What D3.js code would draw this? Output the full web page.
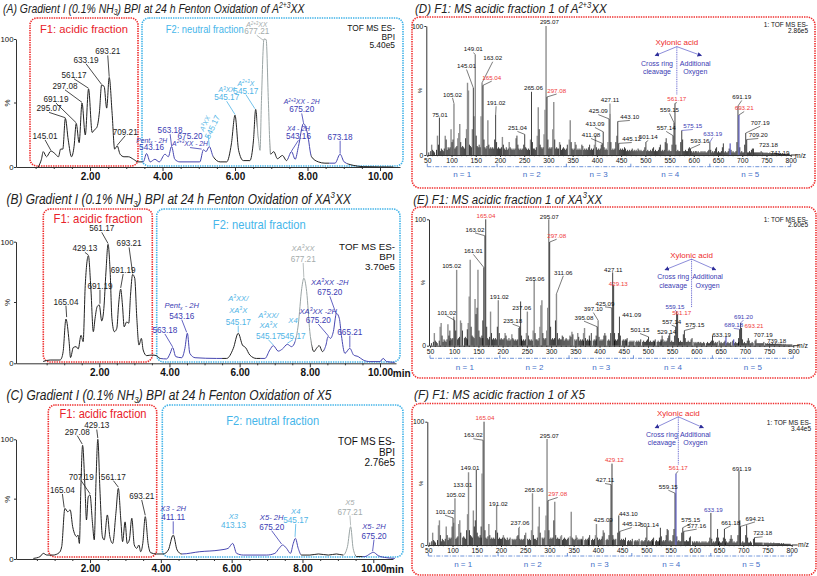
<!DOCTYPE html>
<html><head><meta charset="utf-8">
<script src="https://cdn.jsdelivr.net/npm/d3@7"></script>
<style>body{margin:0;background:#fff}svg{display:block}</style>
</head><body><svg id="c" width="817" height="576"></svg>
<script>
// ---------------- DATA ----------------
const timeTicks=[2,4,6,8,10];
const mzTicks=[50,100,150,200,250,300,350,400,450,500,550,600,650,700,750,800];
const nBounds=[50,194,337,470,633,800];
const nLabels=["n = 1","n = 2","n = 3","n = 4","n = 5"];

// chromatogram traces [time (min), intensity (%)]
const traceA=[[0.57,0],[0.66,6],[0.71,12],[0.80,8],[0.92,12.5],[1.03,10.5],[1.13,8],[1.19,14],[1.25,14],[1.32,38],[1.40,21],[1.49,8],[1.56,16],[1.62,34],[1.70,19],[1.78,50],[1.87,25],[1.96,61],[2.06,27],[2.12,29],[2.19,31],[2.26,43],[2.32,64],[2.39,63],[2.46,46],[2.53,70],[2.61,42],[2.68,14],[2.75,16.5],[2.83,10],[2.94,8],[3.06,8],[3.20,6],[3.33,4],[3.47,4],[3.56,10.5],[3.66,4],[3.79,6],[3.91,4],[4.07,10],[4.16,8],[4.25,16],[4.34,6],[4.48,4],[5.03,4],[5.13,13.5],[5.20,12],[5.29,16],[5.40,8],[5.59,4],[5.77,4],[5.90,18],[6.00,40.5],[6.10,13],[6.23,5],[6.41,5],[6.51,21],[6.57,45],[6.64,23.5],[6.69,13],[6.73,52],[6.80,100],[6.86,99.5],[6.92,52],[6.98,10],[7.07,12],[7.17,6.5],[7.31,9],[7.42,5],[7.56,12],[7.66,6],[7.75,16],[7.89,34],[8.00,26],[8.11,8],[8.30,4],[8.48,3],[8.76,3],[8.90,10],[9.01,4],[9.26,1.3],[9.54,0.3],[10.37,0]];
const traceB=[[0.40,1.5],[0.60,2.7],[0.88,2.7],[0.93,4.5],[0.97,9.6],[1.05,36.4],[1.14,17.8],[1.18,4.7],[1.26,13],[1.34,13.7],[1.40,11.8],[1.48,23],[1.54,17.8],[1.60,64],[1.69,88.5],[1.76,61.6],[1.83,26],[1.88,37],[1.94,46.6],[2.00,48],[2.07,34.8],[2.13,45],[2.19,75],[2.25,97.8],[2.31,75],[2.36,37],[2.43,26],[2.50,28.8],[2.55,48],[2.61,61],[2.66,48],[2.71,30],[2.78,34],[2.84,33],[2.89,56],[2.95,73],[3.01,70],[3.07,37],[3.13,15],[3.20,20.5],[3.25,11],[3.35,6.3],[3.49,6.8],[3.63,6.3],[3.73,4],[3.92,3.6],[4.02,8.2],[4.09,12.9],[4.18,5.5],[4.35,4.6],[4.44,12.3],[4.51,24.7],[4.58,8.2],[4.73,4.6],[5.34,4],[5.63,4],[5.82,12.3],[5.96,24.7],[6.08,15],[6.17,12.9],[6.29,6.8],[6.48,4],[6.72,4],[6.86,11],[6.96,14.5],[7.10,10],[7.22,11.8],[7.36,15.6],[7.48,13.7],[7.58,17.8],[7.67,31.5],[7.77,61.6],[7.83,70],[7.91,59],[8.00,26],[8.12,9.6],[8.19,12.3],[8.27,14.5],[8.36,9.6],[8.46,15],[8.52,22],[8.59,20.5],[8.67,26],[8.76,41],[8.84,37],[8.90,23],[9.00,8.2],[9.14,12.3],[9.25,6.8],[9.38,5.5],[9.52,2.7],[9.71,1.4],[10.00,1.4],[10.09,4],[10.19,1.4],[10.42,0.8]];
const traceC=[[0.40,0.5],[0.59,2],[0.68,4.7],[0.78,3.3],[0.96,3.3],[1.13,5.3],[1.20,10.3],[1.29,42.3],[1.37,39.5],[1.44,41],[1.51,27],[1.58,20],[1.62,18.7],[1.66,20],[1.70,13],[1.74,57.7],[1.79,95],[1.86,57.7],[1.90,32.6],[1.95,52],[2.00,53.5],[2.07,29.8],[2.12,16],[2.17,66],[2.22,100],[2.28,57.7],[2.35,18.7],[2.40,16],[2.49,36.8],[2.56,18.7],[2.64,13],[2.73,38],[2.80,59],[2.87,32.6],[2.92,14.5],[2.99,31],[3.05,13],[3.11,15.9],[3.18,34],[3.25,11.7],[3.32,8.9],[3.38,11.7],[3.43,6.1],[3.49,13],[3.56,35.4],[3.64,13],[3.71,5.3],[3.88,4.2],[4.07,4.2],[4.21,7.5],[4.35,20],[4.46,7.5],[4.59,4.2],[5.10,6.1],[5.67,7.5],[5.90,8.9],[6.03,13],[6.14,4.7],[6.33,3.3],[6.99,3.3],[7.22,4.7],[7.34,8.9],[7.44,11.7],[7.55,8.9],[7.66,4.7],[7.74,13],[7.80,17.3],[7.88,8.9],[7.97,3.3],[8.21,3.3],[8.45,4.2],[8.73,3.3],[8.96,4.2],[9.15,3.3],[9.27,10.3],[9.36,27],[9.43,8.9],[9.53,2],[9.76,2],[9.90,4.2],[10.00,5.6],[10.14,2.8],[10.37,1.1],[10.61,0.5]];

// colour segments of traces [t0, t1, colour key]
const segA=[[-1,3.45,'k'],[3.45,5.4,'b'],[5.4,6.62,'k'],[6.62,6.98,'g'],[6.98,7.45,'k'],[7.45,8.1,'b'],[8.1,8.6,'k'],[8.6,9.1,'b'],[9.1,11,'k']];
const segB=[[-1,3.75,'k'],[3.75,5.5,'b'],[5.5,6.6,'k'],[6.6,7.6,'b'],[7.6,8.05,'g'],[8.05,8.4,'k'],[8.4,11,'b']];
const segC=[[-1,4.6,'k'],[4.6,7.95,'b'],[7.95,9.15,'k'],[9.15,9.5,'g'],[9.5,9.7,'k'],[9.7,11,'b']];

// chromatogram peak annotations
const annA=[
 {lines:["145.01"],t:0.76,v:[24.3],c:'k',pk:[0.92,13]},
 {lines:["295.07"],t:0.87,v:[45.8],c:'k',pk:[1.32,38.5]},
 {lines:["691.19"],t:1.06,v:[53.1],c:'k',pk:[1.62,34.5]},
 {lines:["297.08"],t:1.31,v:[63.4],c:'k',pk:[1.78,50.5]},
 {lines:["561.17"],t:1.56,v:[72],c:'k',pk:[1.96,61.5]},
 {lines:["633.19"],t:1.89,v:[83.8],c:'k',pk:[2.32,64.5]},
 {lines:["693.21"],t:2.49,v:[90.3],c:'k',pk:[2.53,70.5]},
 {lines:["709.21"],t:2.97,v:[27.5],c:'k',pk:[2.75,17]},
 {lines:["Pent_{x} - 2H","543.16"],t:3.70,v:[21,15.2],c:'b'},
 {lines:["563.18"],t:4.21,v:[28.8],c:'b',pk:[4.25,16.5]},
 {lines:["675.20"],t:4.76,v:[24.5],c:'b'},
 {lines:["A^{2+3}XX - 2H"],t:4.76,v:[18.3],c:'b',pk:[5.08,14]},
 {lines:["A^{3}XX","545.17"],t:5.17,v:[34,34],c:'lb',rot:-65,ls:[5.26,25],pk:[5.29,16.5]},
 {lines:["A^{3}XX","545.17"],t:5.77,v:[60.2,54.5],c:'lb',pk:[6.0,41]},
 {lines:["A^{2+3}X","545.17"],t:6.30,v:[65.4,59.7],c:'lb',pk:[6.55,45.5]},
 {lines:["A^{2+3}XX","677.21"],t:6.60,v:[111,106],c:'g',pk:[6.78,99]},
 {lines:["X4 - 2H","543.16"],t:7.75,v:[30,24],c:'b',pk:[7.56,12.5]},
 {lines:["A^{2+3}XX - 2H","675.20"],t:7.84,v:[51,45],c:'b',pk:[7.89,34.5]},
 {lines:["673.18"],t:8.90,v:[23.6],c:'b',pk:[8.90,10.5]}
];
const annB=[
 {lines:["165.04"],t:1.05,v:[50.7],c:'k',pk:[1.07,38]},
 {lines:["429.13"],t:1.59,v:[94.5],c:'k',pk:[1.69,89]},
 {lines:["561.17"],t:2.07,v:[111],c:'k',pk:[2.25,98.5]},
 {lines:["693.21"],t:2.85,v:[98.6],c:'k',pk:[2.95,74]},
 {lines:["691.19"],t:2.02,v:[63.8],c:'k',pk:[2.02,49]},
 {lines:["691.19"],t:2.68,v:[76.7],c:'k',pk:[2.61,62]},
 {lines:["Pent_{x} - 2H","543.16"],t:4.35,v:[47.4,39.2],c:'b',pk:[4.49,25.5]},
 {lines:["563.18"],t:3.87,v:[27.4],c:'b',pk:[4.09,13.5]},
 {lines:["A^{3}XX/","XA^{3}X","545.17"],t:5.96,v:[53.4,43.8,34.2],c:'lb',pk:[5.96,25.5]},
 {lines:["A^{3}XX/","XA^{3}X","545.17"],t:6.82,v:[39.7,31.5,22.7],c:'lb',pk:[6.96,15]},
 {lines:["X4","545.17"],t:7.52,v:[35.6,22.7],c:'lb',pk:[7.36,16.5]},
 {lines:["XA^{3}XX","677.21"],t:7.81,v:[94.5,85.8],c:'g',pk:[7.83,70.5]},
 {lines:["XA^{3}XX -2H","675.20"],t:8.57,v:[67,58.4],c:'b',pk:[8.74,41.5]},
 {lines:["XA^{3}XX -2H","675.20"],t:8.24,v:[43,35.6],c:'b',pk:[8.53,22.5]},
 {lines:["665.21"],t:9.14,v:[26],c:'b',pk:[9.14,13]}
];
const annC=[
 {lines:["165.04"],t:1.22,v:[57.7],c:'k',pk:[1.27,43]},
 {lines:["297.08"],t:1.64,v:[106.4],c:'k',pk:[1.78,96]},
 {lines:["429.13"],t:2.19,v:[111.5],c:'k',pk:[2.22,101]},
 {lines:["707.19"],t:1.75,v:[68.8],c:'k',pk:[2.0,54.5]},
 {lines:["561.17"],t:2.66,v:[68.8],c:'k',pk:[2.80,60]},
 {lines:["693.21"],t:3.46,v:[52.6],c:'k',pk:[3.56,36.5]},
 {lines:["X3 - 2H","411.11"],t:4.35,v:[42.3,34.8],c:'b',pk:[4.35,21]},
 {lines:["X3","413.13"],t:6.05,v:[35.4,28.4],c:'lb'},
 {lines:["X5- 2H","675.20"],t:7.13,v:[34.8,27],c:'b',pk:[7.41,12.5]},
 {lines:["X4","545.17"],t:7.81,v:[39.6,32.6],c:'lb',pk:[7.79,18.5]},
 {lines:["X5","677.21"],t:9.34,v:[47,39.6],c:'g',pk:[9.36,28]},
 {lines:["X5- 2H","675.20"],t:10.02,v:[27,19.5],c:'b',pk:[9.98,6.5]}
];

// mass spectra sticks [m/z, intensity %, tone]
const sticksD=[[59,8,'g'],[71,15,'g'],[73,8,'k'],[75.01,29,'k'],[87,15,'g'],[89,12,'k'],[99,20,'g'],[101,10,'k'],[103,12,'k'],[105.02,40,'g'],[113,13,'g'],[115,17,'g'],[117,24,'g'],[119,10,'k'],[129,13,'k'],[131,20,'g'],[133,56,'g'],[135,50,'g'],[143,20,'g'],[145.01,52,'k'],[147,30,'g'],[149.01,78,'g'],[151,15,'k'],[161,30,'g'],[163.02,56,'g'],[165.04,54,'k'],[167,12,'k'],[175,27,'g'],[177,8,'k'],[189,12,'k'],[191.02,31,'k'],[193,10,'k'],[205,14,'g'],[207,8,'k'],[219,10,'g'],[221,6,'k'],[233,13,'g'],[235,15,'k'],[237,8,'k'],[249,8,'k'],[251.04,16,'k'],[253,6,'k'],[263,12,'g'],[265.06,49,'k'],[267,10,'k'],[277,15,'g'],[279,37,'g'],[281,20,'k'],[283,8,'k'],[291,16,'g'],[293,35,'g'],[295.07,100,'g'],[297.08,45,'k'],[299,12,'k'],[309,20,'g'],[311,41,'g'],[313,12,'k'],[323,10,'g'],[325,8,'k'],[339,8,'k'],[343,12,'g'],[345,27,'g'],[347,10,'k'],[355,10,'g'],[357,8,'k'],[369,8,'k'],[371,7,'g'],[383,6,'k'],[385,8,'k'],[395,8,'g'],[397,15,'g'],[399,6,'k'],[409,8,'k'],[411.08,9,'k'],[413.09,18,'k'],[415,6,'k'],[423,10,'g'],[425.09,28,'g'],[427.11,32,'k'],[429,10,'k'],[439,10,'k'],[441,15,'g'],[443.10,26,'k'],[445.12,9,'k'],[457,6,'k'],[459,5,'k'],[471,4,'k'],[473,5,'k'],[485,5,'k'],[487,4,'k'],[499,6,'k'],[501.14,10,'k'],[515,5,'k'],[517,6,'k'],[529,6,'k'],[531,8,'k'],[541,10,'k'],[543,13,'k'],[545,9,'k'],[555,8,'k'],[557.14,15,'k'],[559.15,25,'k'],[561.17,40,'k'],[563,8,'k'],[573,10,'k'],[575.15,19,'k'],[577,12,'k'],[589,5,'k'],[591,6,'k'],[593.16,5,'k'],[605,3,'k'],[619,3,'k'],[631,4,'k'],[633.19,10,'k'],[635,4,'k'],[645,5,'k'],[647,6,'k'],[659,6,'k'],[661,9,'k'],[673,5,'k'],[675,9,'b'],[677,4,'k'],[689,10,'k'],[691.19,38,'k'],[693.21,31,'b'],[695,6,'k'],[705,8,'k'],[707.19,17,'k'],[709.20,12,'k'],[719,4,'k'],[721,5,'k'],[723.18,5,'k'],[737,2,'k'],[739,3,'k'],[741.19,2,'k']];
const sticksE=[[59,10,'g'],[71,15,'g'],[73,18,'g'],[75,8,'k'],[87,17,'g'],[89,8,'k'],[91,12,'k'],[99,23,'g'],[101.02,20,'k'],[103,12,'k'],[105.02,60,'g'],[113,20,'g'],[115,18,'g'],[117,12,'k'],[127,13,'k'],[129,18,'g'],[131,39,'g'],[133,68,'g'],[135,15,'k'],[143,37,'g'],[145,25,'k'],[147,30,'k'],[149,60,'g'],[151,12,'k'],[159,20,'k'],[161.01,62,'k'],[163.02,87,'g'],[165.04,100,'k'],[167,15,'k'],[175,27,'g'],[177,10,'k'],[189,15,'k'],[191.02,36,'g'],[193,10,'k'],[205,10,'g'],[207,8,'k'],[219,9,'g'],[221,6,'k'],[233,14,'g'],[235.18,15,'k'],[237.06,35,'k'],[239,8,'k'],[249,10,'g'],[251,27,'g'],[253,8,'k'],[263,12,'g'],[265.06,52,'g'],[267,10,'k'],[277,15,'g'],[279,32,'g'],[281,36,'g'],[283,10,'k'],[291,12,'g'],[293,30,'g'],[295.07,100,'g'],[297.08,82,'k'],[299,15,'k'],[309,20,'k'],[311.06,41,'g'],[313,10,'k'],[323,8,'k'],[325,7,'k'],[339,8,'k'],[341,7,'k'],[343,11,'g'],[345,9,'k'],[355,10,'g'],[357,7,'k'],[367,10,'g'],[369,14,'g'],[371,6,'k'],[379,8,'k'],[383,10,'k'],[393,8,'k'],[395.08,15,'k'],[397.10,20,'g'],[399,7,'k'],[409,8,'k'],[411,10,'k'],[413,8,'k'],[423,10,'k'],[425.09,30,'g'],[427.11,58,'k'],[429.13,48,'k'],[431,10,'k'],[439,10,'k'],[441.09,23,'k'],[443,8,'k'],[455,5,'k'],[457,6,'k'],[471,4,'k'],[485,5,'k'],[499,5,'k'],[501.15,7,'k'],[513,4,'k'],[515,5,'k'],[527,5,'k'],[529.14,8,'k'],[531,5,'k'],[541,6,'k'],[543,8,'k'],[545,10,'k'],[555,8,'k'],[557.14,15,'k'],[559.15,27,'k'],[561.17,25,'k'],[563,6,'k'],[573,9,'k'],[575.15,12,'k'],[577,6,'k'],[589,5,'k'],[591,6,'k'],[605,3,'k'],[631,4,'k'],[633.19,8,'k'],[635,4,'k'],[647,4,'k'],[659,4,'k'],[661,7,'b'],[675,4,'k'],[677,5,'b'],[687,6,'k'],[689.18,13,'k'],[691.20,18,'k'],[693.21,14,'k'],[695,5,'k'],[705,4,'k'],[707.19,6,'k'],[709,4,'k'],[721,4,'k'],[723,5,'k'],[737,2,'k'],[739.18,3,'k']];
const sticksF=[[59,10,'g'],[71,16,'g'],[73,20,'g'],[75,8,'k'],[87,15,'g'],[89,8,'k'],[99,15,'g'],[101.02,22,'k'],[103,18,'g'],[105.02,38,'g'],[113,17,'g'],[115,20,'g'],[117,10,'k'],[129,12,'k'],[131,25,'g'],[133.01,59,'g'],[135,12,'k'],[143,28,'g'],[145,15,'k'],[147,20,'k'],[149.01,61,'k'],[151,10,'k'],[159,15,'k'],[161,58,'g'],[163.02,85,'g'],[165.04,100,'k'],[167,12,'k'],[175,17,'g'],[177,8,'k'],[189,12,'k'],[191.02,32,'g'],[193,10,'k'],[205,8,'g'],[207,6,'k'],[219,6,'g'],[233,7,'g'],[235,8,'k'],[237.06,14,'k'],[249,8,'k'],[251,10,'g'],[263,12,'g'],[265.06,42,'g'],[267,8,'k'],[277,15,'g'],[279,31,'g'],[281,10,'k'],[291,12,'g'],[293,24,'g'],[295.07,86,'g'],[297.08,36,'k'],[299,12,'k'],[309,20,'k'],[311,35,'g'],[313,8,'k'],[323,7,'g'],[325,8,'g'],[339,6,'k'],[343,7,'g'],[345,27,'g'],[347,6,'k'],[355,8,'g'],[357,6,'k'],[367,5,'k'],[369,7,'g'],[381,6,'k'],[383,8,'k'],[395,8,'g'],[397,17,'g'],[399,6,'k'],[409,7,'k'],[411,12,'g'],[413,10,'k'],[423,8,'k'],[425.09,20,'k'],[427.11,49,'k'],[429.12,66,'k'],[431,8,'k'],[441,10,'k'],[443.10,24,'k'],[445.12,11,'k'],[457,6,'k'],[471,5,'k'],[485,5,'k'],[499,6,'k'],[501.14,15,'k'],[513,5,'k'],[515,6,'k'],[527,6,'k'],[529,14,'k'],[531,7,'k'],[541,8,'k'],[543,13,'k'],[545,12,'k'],[555,8,'k'],[557,13,'k'],[559.15,42,'k'],[561.17,58,'b'],[563,7,'k'],[573,10,'k'],[575.15,14,'k'],[577.16,11,'k'],[589,6,'k'],[591,7,'k'],[605,3,'k'],[619,3,'k'],[631,6,'k'],[633.19,26,'k'],[635,5,'k'],[645,6,'k'],[647,13,'k'],[649,6,'k'],[659,6,'k'],[661.18,13,'k'],[663,5,'k'],[673,5,'k'],[675,8,'k'],[677,5,'k'],[689,8,'k'],[691.19,60,'k'],[693,20,'k'],[694.21,15,'k'],[705,8,'k'],[707,16,'k'],[709,6,'k'],[721,5,'k'],[723.18,6,'k'],[737,2,'k'],[739,2,'k']];
// low-level background ions common to the spectra [m/z, %]
const grass=[[53,2],[57,3],[61,4],[63,3],[65,2],[69,4],[77,3],[79,5],[81,4],[83,3],[85,5],[91,4],[93,6],[95,5],[97,6],[107,5],[109,6],[111,7],[121,6],[123,7],[125,6],[127,5],[137,8],[139,7],[141,6],[153,7],[155,6],[157,8],[159,6],[169,6],[171,5],[173,7],[179,5],[181,6],[183,5],[185,6],[187,5],[195,5],[197,6],[199,5],[201,5],[203,6],[209,5],[211,4],[213,6],[215,4],[217,5],[223,5],[225,4],[227,5],[229,4],[231,5],[239,5],[241,4],[243,5],[245,4],[247,5],[255,5],[257,4],[259,5],[261,4],[269,5],[271,5],[273,4],[275,6],[285,6],[287,5],[289,6],[301,5],[303,6],[305,5],[307,6],[315,5],[317,6],[319,5],[321,5],[327,4],[329,5],[331,6],[333,5],[335,4],[337,5],[349,5],[351,4],[353,5],[359,4],[361,5],[363,4],[365,5],[367,4],[373,4],[375,5],[377,4],[379,5],[381,4],[387,4],[389,5],[391,4],[393,5],[401,4],[403,5],[405,4],[407,5],[417,4],[419,5],[421,4],[431,4],[433,5],[435,4],[437,5],[447,4],[449,5],[451,4],[453,5],[455,4],[461,3],[463,4],[465,3],[467,4],[469,3],[475,3],[477,4],[479,3],[481,4],[483,3],[489,3],[491,4],[493,3],[495,3],[497,4],[503,3],[505,4],[507,3],[509,3],[511,4],[513,3],[519,3],[521,4],[523,3],[525,3],[527,4],[533,3],[535,4],[537,3],[539,4],[547,3],[549,4],[551,3],[553,3],[565,3],[567,4],[569,3],[571,3],[579,3],[581,3],[583,4],[585,3],[587,3],[595,3],[597,2],[599,3],[601,2],[603,3],[607,2],[609,3],[611,2],[613,2],[615,3],[617,2],[621,2],[623,3],[625,2],[627,2],[629,3],[637,2],[639,3],[641,2],[643,3],[649,2],[651,3],[653,2],[655,2],[657,3],[663,2],[665,3],[667,2],[669,2],[671,3],[679,2],[681,3],[683,2],[685,2],[687,3],[697,2],[699,3],[701,2],[703,2],[711,2],[713,2],[715,3],[717,2],[725,2],[727,2],[729,2],[731,2],[733,2],[735,2],[743,2],[745,1.5],[747,2],[749,1.5],[751,2],[753,1.5],[755,1.5],[757,2],[759,1.5],[761,1.5],[763,2],[765,1.5],[767,1.5],[769,1.5],[771,1.5],[773,1.5],[775,1.5],[777,1],[779,1.5],[781,1],[783,1.5],[785,1],[787,1],[789,1],[791,1],[793,1],[795,1],[797,1]];

// spectrum peak labels [text, label m/z, label %, colour]
const labelsD=[["75.01",76,31,'k'],["105.02",102,47,'k'],["145.01",131,69,'k'],["149.01",145,82,'k'],["163.02",185,75,'k'],["165.04",183,60,'r'],["191.02",192,40.5,'k'],["251.04",236,21,'k'],["265.06",269,52,'k'],["295.07",302,103,'k'],["297.08",317,50,'r'],["411.08",388,15.5,'k'],["413.09",396,24,'k'],["425.09",403,34,'k'],["427.11",427,42.6,'k'],["443.10",468,29.5,'k'],["445.12",472,12.4,'k'],["501.14",506,14,'k'],["557.14",543,21,'k'],["559.15",550,35,'k'],["561.17",565,43.4,'r'],["575.15",598,22.5,'b'],["593.16",613,11,'k'],["633.19",639,16.3,'b'],["691.19",699,45,'k'],["693.21",704,36.4,'r'],["707.19",737,25,'k'],["709.20",733,15.5,'k'],["723.18",754,8,'k'],["741.19",778,1.8,'k']];
const labelsE=[["165.04",165.6,102.6,'r'],["163.02",142.9,92,'k'],["161.01",139.5,75,'k'],["105.02",94.7,63,'k'],["101.02",84.4,26.4,'k'],["191.02",193.1,38.3,'k'],["235.18",220.6,19.8,'k'],["237.06",239.2,29.6,'k'],["265.06",266.7,53.3,'k'],["295.07",296.3,101.6,'k'],["297.08",311.5,87,'r'],["311.06",325.2,58,'k'],["427.11",428.4,60.4,'k'],["429.13",438.8,48.8,'r'],["425.09",411.3,33.5,'k'],["397.10",387.2,29,'k'],["395.08",367.9,22.2,'k'],["441.09",466.3,24.8,'k'],["501.15",483.5,12.4,'k'],["529.14",538.5,11,'k'],["557.14",548.9,19,'k'],["559.15",555.7,30.9,'b'],["561.17",569.5,26,'r'],["575.15",597,16.9,'k'],["633.19",652,9,'k'],["689.18",677,16.5,'b'],["691.20",697,23,'b'],["693.21",719,15.6,'r'],["707.19",738,8.4,'k'],["739.18",765.6,4,'k']];
const labelsF=[["165.04",167,103,'r'],["163.02",142.9,89,'k'],["149.01",136,63,'k'],["133.01",120.9,48.6,'k'],["105.02",106.4,40.5,'k'],["101.02",84.4,27,'k'],["191.02",194.5,33.8,'k'],["237.06",239.2,17.6,'k'],["265.06",268.1,44.6,'k'],["295.07",299.8,88.4,'k'],["297.08",317,41.4,'r'],["429.12",434,69,'r'],["427.11",414.7,52.7,'k'],["425.09",411.2,20.8,'k'],["443.10",462.9,24.9,'k'],["445.12",469.8,17,'k'],["501.14",506.3,16.2,'k'],["559.15",545.4,47.3,'k'],["561.17",566,62.7,'r'],["575.15",591.5,20.3,'k'],["577.16",604,15.7,'k'],["633.19",638.3,28.9,'b'],["661.18",674,18.4,'k'],["691.19",696.8,62.2,'k'],["694.21",724.3,21.6,'k'],["723.18",740,9.5,'k']];

// xylonic acid annotation (data coords)
const xyloD={mz:565,tv:87.8,top:84,bot:46.5,av:77,lm:520,rm:616,lmz:524,rmz:603,s1:71,s2:64.6};
const xyloE={mz:590,tv:71.8,top:68.5,bot:30,av:60,lm:535,rm:640,lmz:552,rmz:623,s1:54.6,s2:48};
const xyloF={mz:566,tv:107.3,top:104,bot:65,av:95,lm:518,rm:618,lmz:532,rmz:601,s1:90,s2:83};

// ---------------- DRAWING ----------------
const FF='"Liberation Sans", Arial, Helvetica, sans-serif';
const COL={k:'#1c1c1c',b:'#3b3bb3',lb:'#4fb4e6',g:'#a4acac',r:'#ee2b2b'};
const svg=d3.select('#c').attr('font-family',FF);
svg.append('rect').attr('width',817).attr('height',576).attr('fill','#fff');
const defs=svg.append('defs');
defs.append('marker').attr('id','ah').attr('viewBox','0 0 10 10').attr('refX',9).attr('refY',5)
  .attr('markerWidth',4.5).attr('markerHeight',4.5).attr('orient','auto-start-reverse').attr('markerUnits','userSpaceOnUse')
  .append('path').attr('d','M0,0L10,5L0,10Z').attr('fill','#2f2f9a');

function rich(t,str,fs){
  const parts=str.split(/(\^\{[^}]*\}|_\{[^}]*\})/).filter(p=>p!=='');
  let cur=0;
  parts.forEach(p=>{
    let d=0,s=p,size=null;
    if(p.startsWith('^{')){d=-fs*0.38;s=p.slice(2,-1);size=fs*0.66;}
    else if(p.startsWith('_{')){d=fs*0.22;s=p.slice(2,-1);size=fs*0.66;}
    const ts=t.append('tspan').attr('dy',(d-cur).toFixed(2)).text(s);
    if(size) ts.attr('font-size',size.toFixed(2));
    cur=d;
  });
  return t;
}
function tx(g,x,y,str,o={}){
  const fs=o.fs||8;
  const t=g.append('text').attr('x',x).attr('y',y).attr('font-size',fs)
    .attr('fill',o.c||'#111').attr('text-anchor',o.a||'start');
  if(o.it) t.attr('font-style','italic');
  if(o.w) t.attr('font-weight',o.w);
  if(o.tr) t.attr('transform',o.tr);
  rich(t,str,fs);
  return t;
}
// text compressed horizontally to a given width (condensed face look)
function txFit(g,x,y,str,len,o={}){
  const anchor=o.a||'start';
  const gg=g.append('g');
  const t=tx(gg,0,0,str,Object.assign({},o,{a:anchor}));
  const w=t.node().getComputedTextLength();
  const s=Math.min(1.15,len/w);
  gg.attr('transform',`translate(${x},${y}) scale(${s.toFixed(4)},1)`);
  return t;
}
function box(g,b,c,rx){
  g.append('rect').attr('x',b[0]).attr('y',b[1]).attr('width',b[2]-b[0]).attr('height',b[3]-b[1])
   .attr('rx',rx).attr('fill','none').attr('stroke',c).attr('stroke-width',1.6).attr('stroke-dasharray','1.4,1');
}
function styleAxis(a,fs,w){
  a.attr('font-family',FF);
  a.selectAll('text').attr('font-size',fs).attr('fill','#111').attr('font-weight',w||null);
  a.selectAll('line,path').attr('stroke','#333');
}

function chrom(P){
  const g=svg.append('g');
  const x=d3.scaleLinear().domain([0,10]).range(P.xr);
  const y=d3.scaleLinear().domain([0,100]).range(P.yr);
  txFit(g,P.tpos[0],P.tpos[1],P.title,P.tpos[3],{fs:P.tpos[2],it:true,c:'#222'});
  box(g,P.f1Box,COL.r,7); box(g,P.f2Box,'#3fb2e8',7);
  txFit(g,P.f1T[0],P.f1T[1]+P.f1T[2]*0.36,"F1: acidic fraction",P.f1T[3],{fs:P.f1T[2],c:'#e8222a',a:'middle'});
  txFit(g,P.f2T[0],P.f2T[1]+P.f2T[2]*0.36,"F2: neutral fraction",P.f2T[3],{fs:P.f2T[2],c:'#46b6ea',a:'middle'});
  // axes
  const xa=x.copy().domain([x.invert(P.ax[0]),x.invert(P.ax[1])]).range(P.ax);
  const ax=g.append('g').attr('transform',`translate(0,${P.yr[0]})`)
    .call(d3.axisBottom(xa).tickValues(timeTicks).tickFormat(d3.format('.2f')).tickSize(4).tickSizeOuter(0).tickPadding(2));
  styleAxis(ax,10,'bold');
  const mn=g.append('g').attr('transform',`translate(0,${P.yr[0]})`)
    .call(d3.axisBottom(xa).tickValues(d3.range(0.5,10.5,0.5).filter(v=>v%2)).tickSize(2).tickFormat(''));
  mn.select('.domain').remove(); styleAxis(mn,8);
  const ay=g.append('g').attr('transform',`translate(${P.ax[0]},0)`)
    .call(d3.axisLeft(y).tickValues([0,100]).tickSize(2).tickSizeOuter(0).tickPadding(0.5));
  styleAxis(ay,7.8);
  g.append('line').attr('x1',P.ax[0]-2).attr('x2',P.ax[0]).attr('y1',y(50)).attr('y2',y(50)).attr('stroke','#333');
  tx(g,P.ax[0]-6,y(50),"%",{fs:8,a:'middle',tr:`rotate(-90,${P.ax[0]-6},${y(50)})`});
  if(P.min) tx(g,x(10)+12.8,P.yr[0]+13.5,"min",{fs:10,w:'bold'});
  // TOF text
  ["TOF MS ES-","BPI",P.tof[4]].forEach((s,i)=>tx(g,P.tof[0],P.tof[1]+i*P.tof[3]+P.tof[2]*0.36,s,{fs:P.tof[2],a:'end',c:'#111'}));
  // trace
  const line=d3.line().x(d=>x(d[0])).y(d=>y(d[1])).curve(d3.curveMonotoneX);
  const dstr=line(P.trace);
  P.seg.forEach((s,i)=>{
    const id=`cl${P.id}${i}`;
    defs.append('clipPath').attr('id',id).append('rect').attr('x',x(s[0])).attr('y',0)
      .attr('width',x(s[1])-x(s[0])).attr('height',576);
    g.append('path').attr('d',dstr).attr('fill','none').attr('stroke',s[2]=='g'?'#9aa4a4':(s[2]=='b'?'#4646b0':'#222'))
      .attr('stroke-width',1).attr('clip-path',`url(#${id})`);
  });
  // annotations
  P.ann.forEach(L=>{
    const c=COL[L.c];
    const gx=x(L.t), gy=y(L.v[0]);
    const lg=g.append('g').attr('transform',`translate(${gx},${gy})`+(L.rot?` rotate(${L.rot})`:''));
    L.lines.forEach((s,j)=>{
      const isName=/[A-Za-z]/.test(s);
      const fs=isName?(P.id==='A'?6.8:7.6):8.2;
      const dy=L.rot? j*8 : y(L.v[j])-gy;
      tx(lg,0,dy+fs*0.36,s,{fs,c,a:'middle',it:isName});
    });
    if(L.pk){
      const s0=L.ls?[x(L.ls[0]),y(L.ls[1])]:[gx,y(L.v[L.v.length-1])+4];
      g.append('line').attr('x1',s0[0]).attr('y1',s0[1]).attr('x2',x(L.pk[0])).attr('y2',y(L.pk[1]))
        .attr('stroke',c).attr('stroke-width',0.8);
    }
  });
}

function spec(S){
  const g=svg.append('g');
  const x=d3.scaleLinear().domain([50,800]).range(S.xr);
  const y=d3.scaleLinear().domain([0,100]).range(S.yr);
  txFit(g,S.tpos[0],S.tpos[1],S.title,S.tpos[3],{fs:S.tpos[2],it:true,c:'#222'});
  box(g,S.box,'#f03030',8);
  // sticks
  const tones={g:['#8e8e8e',1.4],k:['#111',0.8],b:['#3b3bb3',1]};
  ['g','k','b'].forEach(tn=>{
    g.append('g').selectAll('line').data(S.sticks.filter(s=>s[2]===tn)).join('line')
      .attr('x1',d=>x(d[0])).attr('x2',d=>x(d[0])).attr('y1',y(0)).attr('y2',d=>y(d[1]))
      .attr('stroke',tones[tn][0]).attr('stroke-width',tones[tn][1]);
  });
  g.append('g').selectAll('line').data(grass).join('line')
    .attr('x1',d=>x(d[0])).attr('x2',d=>x(d[0])).attr('y1',y(0)).attr('y2',d=>y(d[1]))
    .attr('stroke','#000').attr('stroke-width',0.75);
  // axes
  const xa=g.append('g').attr('transform',`translate(0,${S.yr[0]})`)
    .call(d3.axisBottom(x).tickValues(mzTicks).tickSize(2).tickSizeOuter(0).tickPadding(1.5));
  styleAxis(xa,6.8);
  const xm=g.append('g').attr('transform',`translate(0,${S.yr[0]})`)
    .call(d3.axisBottom(x).tickValues(d3.range(60,800,10).filter(v=>v%50)).tickSize(1.2).tickFormat(''));
  xm.select('.domain').remove(); styleAxis(xm,6);
  g.append('line').attr('x1',x(800)).attr('x2',x(800)+6).attr('y1',S.yr[0]).attr('y2',S.yr[0]).attr('stroke','#333');
  const yx=x(50)-1;
  const ya=g.append('g').attr('transform',`translate(${yx},0)`)
    .call(d3.axisLeft(y).tickValues([0,100]).tickSize(2).tickSizeOuter(0).tickPadding(1));
  styleAxis(ya,6.8);
  tx(g,yx-4,y(50),"%",{fs:6,a:'middle',tr:`rotate(-90,${yx-4},${y(50)})`});
  tx(g,S.mzl[0],S.mzl[1],"m/z",{fs:6.8});
  tx(g,S.tof[0],S.tof[1]+2.3,"1: TOF MS ES-",{fs:6.5,a:'end'});
  tx(g,S.tof[0],S.tof[2]+2.3,S.tof[3],{fs:6.5,a:'end'});
  // labels
  S.labels.forEach(L=>{
    const c=L[3]==='r'?'#f03a3a':(L[3]==='b'?COL.b:'#111');
    const lx=x(L[1]), ly=y(L[2]);
    tx(g,lx,ly+2.2,L[0],{fs:6.2,c,a:'middle'});
    const st=S.sticks.find(s=>Math.abs(s[0]-parseFloat(L[0]))<0.05);
    if(st && y(st[1])>ly+4){
      g.append('line').attr('x1',lx).attr('y1',ly+3.5).attr('x2',x(st[0])).attr('y2',y(st[1]))
        .attr('stroke',L[3]==='b'?COL.b:'#222').attr('stroke-width',0.6);
    }
  });
  // xylonic acid
  const X=S.xylo;
  tx(g,x(X.mz),y(X.tv)+2.9,"Xylonic acid",{fs:8,c:'#ee2b2b',a:'middle'});
  g.append('line').attr('x1',x(X.mz)).attr('x2',x(X.mz)).attr('y1',y(X.top)).attr('y2',y(X.bot))
    .attr('stroke','#5858cc').attr('stroke-width',0.9).attr('stroke-dasharray','1,0.8');
  [X.lm,X.rm].forEach(m=>g.append('line').attr('x1',x(X.mz)).attr('y1',y(X.top)).attr('x2',x(m)).attr('y2',y(X.av))
    .attr('stroke','#5a5ac8').attr('stroke-width',0.7).attr('marker-end','url(#ah)'));
  tx(g,x(X.lmz),y(X.s1)+2.5,"Cross ring",{fs:7,c:COL.b,a:'middle'});
  tx(g,x(X.lmz),y(X.s2)+2.5,"cleavage",{fs:7,c:COL.b,a:'middle'});
  tx(g,x(X.rmz),y(X.s1)+2.5,"Additional",{fs:7,c:COL.b,a:'middle'});
  tx(g,x(X.rmz),y(X.s2)+2.5,"Oxygen",{fs:7,c:COL.b,a:'middle'});
  // n brackets
  const by=S.br[0];
  g.append('line').attr('x1',x(50)).attr('x2',x(800)).attr('y1',by).attr('y2',by)
    .attr('stroke','#4a78d0').attr('stroke-width',0.8).attr('stroke-dasharray','4,1.5,1,1.5');
  nBounds.forEach(b=>g.append('line').attr('x1',x(b)).attr('x2',x(b)).attr('y1',by-3).attr('y2',by)
    .attr('stroke','#4a78d0').attr('stroke-width',0.8));
  nLabels.forEach((s,i)=>tx(g,x((nBounds[i]+nBounds[i+1])/2),S.br[1],s,{fs:8,c:'#3f6fc8',a:'middle'}));
}

chrom({id:'A',title:"(A) Gradient I (0.1% NH_{3}) BPI at 24 h Fenton Oxidation of A^{2+3}XX",tpos:[3,12.5,12.5,302],
  xr:[17.5,380],yr:[167,39],ax:[16,400],f1Box:[30,18,138,166],f2Box:[142,18,403,166],
  f1T:[84,29.3,11.5,88],f2T:[204.7,29.3,11.5,78],tof:[395,28.3,8.4,8.4,"5.40e5"],min:false,trace:traceA,seg:segA,ann:annA});
chrom({id:'B',title:"(B) Gradient I (0.1% NH_{3}) BPI at 24 h Fenton Oxidation of XA^{3}XX",tpos:[6.5,203.5,14.5,345],
  xr:[29.1,380],yr:[363.3,241.7],ax:[16,396],f1Box:[43.3,209,152.3,362],f2Box:[156.7,209,400,362],
  f1T:[98,218.3,12.5,89],f2T:[259.3,224.3,12.5,93],tof:[395,246.7,9.8,10,"3.70e5"],min:true,trace:traceB,seg:segB,ann:annB});
chrom({id:'C',title:"(C) Gradient I (0.1% NH_{3}) BPI at 24 h Fenton Oxidation of X5",tpos:[6.5,400,14.5,325],
  xr:[19.2,373.3],yr:[559,439.3],ax:[16,393],f1Box:[48.3,405,156.7,557],f2Box:[162.3,405,403,557],
  f1T:[103,413.3,12.5,87],f2T:[272.7,420,12.5,93],tof:[395,441.7,10,10.2,"2.76e5"],min:true,trace:traceC,seg:segC,ann:annC});

spec({title:"(D) F1: MS acidic fraction 1 of A^{2+3}XX",tpos:[415,12.5,12.5,192],xr:[427.3,790.7],yr:[155,26],
  box:[412,17,815,188],br:[166.7,177],mzl:[795,157.5],tof:[808,25,31,"2.86e5"],sticks:sticksD,labels:labelsD,xylo:xyloD});
spec({title:"(E) F1: MS acidic fraction 1 of XA^{3}XX",tpos:[413.3,203.5,13.5,189],xr:[430,793.3],yr:[345.7,219.3],
  box:[412,207,816,378],br:[358.3,369.5],mzl:[797,348],tof:[808,219.5,225,"2.60e5"],sticks:sticksE,labels:labelsE,xylo:xyloE});
spec({title:"(F) F1: MS acidic fraction 1 of X5",tpos:[414,398.5,13.5,171],xr:[428.3,791.7],yr:[545,421.7],
  box:[412,403.5,816,575],br:[556,567],mzl:[798,547],tof:[811,423,428.5,"3.44e5"],sticks:sticksF,labels:labelsF,xylo:xyloF});
</script></body></html>
